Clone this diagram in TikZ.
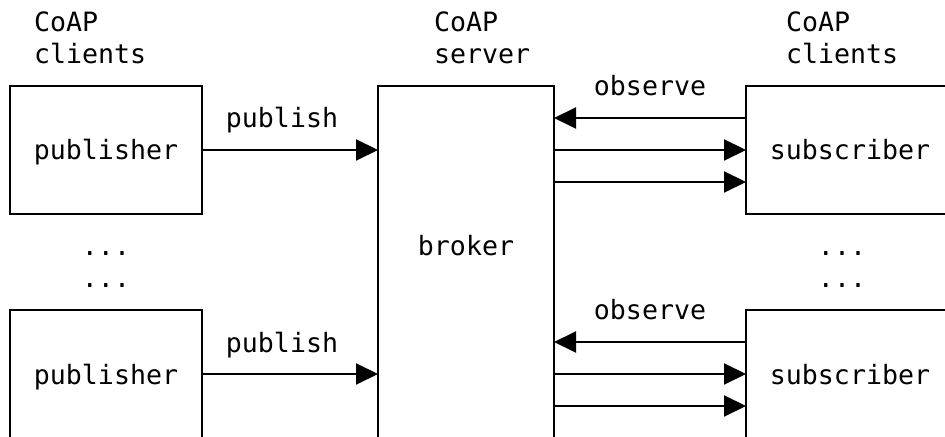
\documentclass[tikz,border=0pt]{standalone}
\usepackage{fontspec}
\newfontfamily\monofnt{DejaVu Sans Mono}
\usetikzlibrary{arrows.meta,calc}
\begin{document}
\begin{tikzpicture}[x=0.5pt,y=-0.5pt,
  box/.style={draw,line width=1pt,anchor=north west,inner sep=0pt,outer sep=0pt},
  txt/.style={inner sep=0pt,outer sep=0pt,font=\monofnt\fontsize{13.3}{16}\selectfont},
  arr/.style={line width=1pt,-{Triangle[length=11pt,width=10.5pt]}}]
\path[use as bounding box] (0,0) rectangle (945,437);
\clip (0,0) rectangle (945,437);
% boxes
\node[box,minimum width=96pt,minimum height=64pt] (pubA) at (10,86) {};
\node[box,minimum width=96pt,minimum height=80pt] (pubB) at (10,310) {};
\node[box,minimum width=88pt,minimum height=200pt] (broker) at (378,86) {};
\node[box,minimum width=150pt,minimum height=64pt] (subA) at (746,86) {};
\node[box,minimum width=150pt,minimum height=80pt] (subB) at (746,310) {};
% headers
\node[txt,anchor=base west] (hl1) at (34,32) {CoAP};
\node[txt,anchor=base west] (hl2) at (34,64) {clients};
\node[txt,anchor=base west] (hs1) at (434,32) {CoAP};
\node[txt,anchor=base west] (hs2) at (434,64) {server};
\node[txt,anchor=base west] (hr1) at (786,32) {CoAP};
\node[txt,anchor=base west] (hr2) at (786,64) {clients};
% box texts
\node[txt,anchor=base] (tpubA) at (106,160) {publisher};
\node[txt,anchor=base] (tpubB) at (106,384) {publisher};
\node[txt,anchor=base] (tsubA) at (850,160) {subscriber};
\node[txt,anchor=base] (tsubB) at (850,384) {subscriber};
\node[txt,anchor=base] (tbroker) at (466,256) {broker};
% dots
\node[txt,anchor=base] (dl1) at (106,256) {...};
\node[txt,anchor=base] (dl2) at (106,288) {...};
\node[txt,anchor=base] (dr1) at (842,256) {...};
\node[txt,anchor=base] (dr2) at (842,288) {...};
% labels
\node[txt,anchor=base] (lpubA) at (282,128) {publish};
\node[txt,anchor=base] (lpubB) at (282,352) {publish};
\node[txt,anchor=base] (lobsA) at (650,96) {observe};
\node[txt,anchor=base] (lobsB) at (650,320) {observe};
% connectors
\draw[arr] (pubA.east) -- (pubA.east -| broker.west);
\coordinate (pB) at ($(pubB.north east)+(0,64)$);
\draw[arr] (pB) -- (pB -| broker.west);
\foreach \s in {subA,subB}{
  \coordinate (o1) at ($(\s.north west)+(0,32)$);
  \coordinate (o2) at ($(\s.north west)+(0,64)$);
  \coordinate (o3) at ($(\s.north west)+(0,96)$);
  \draw[arr] (o1) -- (o1 -| broker.east);
  \draw[arr] (o2 -| broker.east) -- (o2);
  \draw[arr] (o3 -| broker.east) -- (o3);
}
\end{tikzpicture}
\end{document}
